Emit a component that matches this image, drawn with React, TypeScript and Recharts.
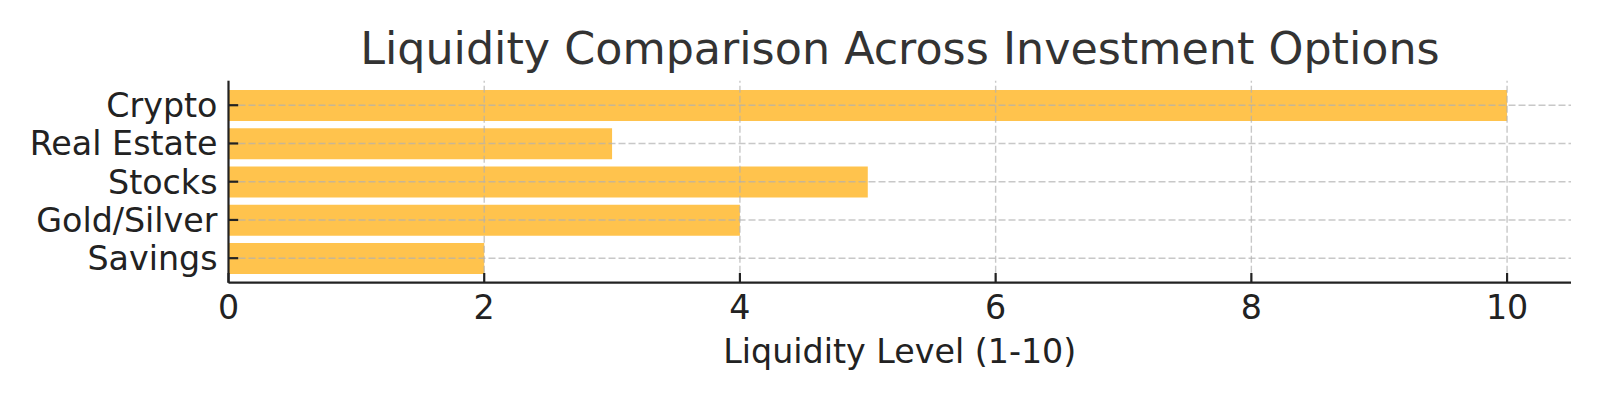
import React from 'react';
import { BarChart, Bar, XAxis, YAxis, ReferenceLine, Label } from 'recharts';

const categories = ['Crypto', 'Real Estate', 'Stocks', 'Gold/Silver', 'Savings'];
const liquidity = [10, 3, 5, 4, 2];
const xTicks = [0, 2, 4, 6, 8, 10];
const titleText = 'Liquidity Comparison Across Investment Options';
const xLabelText = 'Liquidity Level (1-10)';

const data = categories.map((name, i) => ({ name, value: liquidity[i] }));

const FONT = 'DejaVu Sans, sans-serif';
const TICK_COLOR = '#222';

const XTick = (props: any) => {
  const { x, y, payload } = props;
  return (
    <g>
      <line x1={x} x2={x} y1={y} y2={y - 9.7} stroke={TICK_COLOR} strokeWidth={2.2} />
      <text x={x} y={y + 36.3} textAnchor="middle" fontSize={33.3} fill={TICK_COLOR} fontFamily={FONT}>
        {payload.value}
      </text>
    </g>
  );
};

const YTick = (props: any) => {
  const { x, y, payload } = props;
  return (
    <g>
      <line x1={x} x2={x + 9.7} y1={y} y2={y} stroke={TICK_COLOR} strokeWidth={2.2} />
      <text x={x - 11} y={y + 11.8} textAnchor="end" fontSize={33.3} fill={TICK_COLOR} fontFamily={FONT}>
        {payload.value}
      </text>
    </g>
  );
};

const XLabel = (props: any) => {
  const vb = props.viewBox || { x: 228.5, y: 282.7, width: 1342.5, height: 117 };
  return (
    <text
      x={vb.x + vb.width / 2}
      y={vb.y + 80.5}
      textAnchor="middle"
      fontSize={33.3}
      fill={TICK_COLOR}
      fontFamily={FONT}
    >
      {xLabelText}
    </text>
  );
};

export default function App() {
  return (
    <div style={{ position: 'absolute', left: 0, top: 0, width: 1600, height: 400, background: '#fff' }}>
      <BarChart
        width={1600}
        height={400}
        data={data}
        layout="vertical"
        margin={{ top: 80.7, right: 29, bottom: 0, left: 0 }}
        barCategoryGap="10%"
      >
        <XAxis
          type="number"
          domain={[0, 10.5]}
          ticks={xTicks}
          height={117.3}
          tick={<XTick />}
          tickLine={false}
          tickSize={0}
          tickMargin={0}
          axisLine={{ stroke: TICK_COLOR, strokeWidth: 2.2 }}
          allowDataOverflow
        >
          <Label content={<XLabel />} />
        </XAxis>
        <YAxis
          type="category"
          dataKey="name"
          width={228.5}
          padding={{ top: 5.4, bottom: 5.4 }}
          tick={<YTick />}
          tickLine={false}
          tickSize={0}
          tickMargin={0}
          axisLine={{ stroke: TICK_COLOR, strokeWidth: 2.2 }}
          interval={0}
        />
        <Bar dataKey="value" fill="#FFC34D" isAnimationActive={false} />
        {categories.map((c) => (
          <ReferenceLine
            key={'h' + c}
            y={c}
            stroke="#b0b0b0"
            strokeOpacity={0.7}
            strokeWidth={1.4}
            strokeDasharray="7 3"
          />
        ))}
        {xTicks
          .filter((t) => t > 0)
          .map((t) => (
            <ReferenceLine
              key={'v' + t}
              x={t}
              stroke="#b0b0b0"
              strokeOpacity={0.7}
              strokeWidth={1.4}
              strokeDasharray="7 3"
            />
          ))}
      </BarChart>
      <svg width={1600} height={400} style={{ position: 'absolute', left: 0, top: 0, pointerEvents: 'none' }}>
        <text x={900} y={64} textAnchor="middle" fontSize={44.4} fill="#333" fontFamily={FONT}>
          {titleText}
        </text>
      </svg>
    </div>
  );
}
